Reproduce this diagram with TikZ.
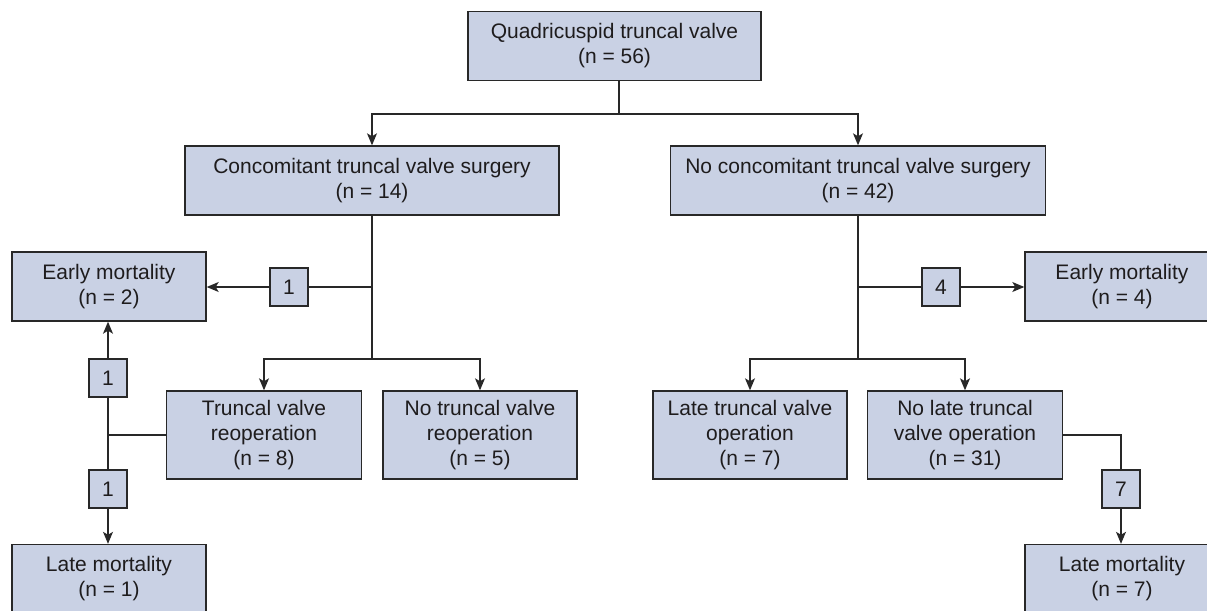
\documentclass[tikz,border=0pt]{standalone}
\usepackage{fontspec}
\setmainfont{Liberation Sans}
\usepackage{tikz}
\usetikzlibrary{arrows.meta}
\usetikzlibrary{positioning}
\definecolor{boxblue}{RGB}{201,209,228}
\definecolor{edgegray}{RGB}{40,40,40}
\definecolor{inkgray}{RGB}{30,28,29}
\tikzset{>={Stealth[length=6pt,width=5pt,inset=1.5pt]}}
\tikzset{
    stage/.style={draw=edgegray, fill=boxblue, line width=0.7pt, align=center,
        inner sep=0pt, minimum height=34.5pt, text=inkgray,
        font=\fontsize{10.5}{12.5}\selectfont},
    tally/.style={draw=edgegray, fill=boxblue, line width=0.7pt, inner sep=0pt,
        minimum size=19pt, text=inkgray, font=\fontsize{10.5}{12.5}\selectfont},
}

\begin{document}
\begin{tikzpicture}[x=0.5pt, y=-0.5pt, line width=0.6pt, draw=edgegray]
	\useasboundingbox (0,0) rectangle (1207,611);
	\clip (0,0) rectangle (1207,611);
	\node[stage, minimum width=146.5pt] (top) at (614.5,46) {Quadricuspid truncal valve\\(n = 56)};
	\node[stage, minimum width=187pt] (conc) at (372,180.5) {Concomitant truncal valve surgery\\(n = 14)};
	\node[stage, minimum width=187.5pt] (noconc) at (858,180.5) {No concomitant truncal valve surgery\\(n = 42)};
	\node[stage, minimum width=97pt] (earlyL) at (109,286.5) {Early mortality\\(n = 2)};
	\node[stage, minimum width=97pt] (earlyR) at (1122,286.5) {Early mortality\\(n = 4)};
	\node[tally] (cnt1) at (289,287) {1};
	\node[tally] (cnt4) at (941,287) {4};
	\node[stage, minimum width=97.5pt, minimum height=44pt] (tvr) at (264,435) {Truncal valve\\reoperation\\(n = 8)};
	\node[stage, minimum width=97pt, minimum height=44pt] (ntvr) at (480,435) {No truncal valve\\reoperation\\(n = 5)};
	\node[stage, minimum width=97pt, minimum height=44pt] (ltvo) at (750,435) {Late truncal valve\\operation\\(n = 7)};
	\node[stage, minimum width=97.5pt, minimum height=44pt] (nltvo) at (965,435) {No late truncal\\valve operation\\(n = 31)};
	\node[tally] (cntA) at (108,378) {1};
	\node[tally] (cntB) at (108,489) {1};
	\node[tally] (cnt7) at (1121,489) {7};
	\node[stage, minimum width=97pt] (lateL) at (109,579) {Late mortality\\(n = 1)};
	\node[stage, minimum width=97pt] (lateR) at (1122,579) {Late mortality\\(n = 7)};

	\coordinate (jtop) at (619,114);
	\coordinate (jconc) at (372,359);
	\coordinate (jnoconc) at (858,359);
	\coordinate (jleft) at (108,435);

	\draw (top.south -| jtop) -- (jtop);
	\draw[->] (jtop) -| (conc.north);
	\draw[->] (jtop) -| (noconc.north);

	\draw (conc.south) -- (jconc);
	\draw[->] (jconc) -| (tvr.north);
	\draw[->] (jconc) -| (ntvr.north);
	\draw (conc.south |- cnt1) -- (cnt1.east);
	\draw[->] (cnt1.west) -- (cnt1.west -| earlyL.east);

	\draw (tvr.west) -- (jleft);
	\draw (jleft) -- (cntA.south);
	\draw[->] (cntA.north) -- (cntA.north |- earlyL.south);
	\draw (jleft) -- (cntB.north);
	\draw[->] (cntB.south) -- (cntB.south |- lateL.north);

	\draw (noconc.south) -- (jnoconc);
	\draw[->] (jnoconc) -| (ltvo.north);
	\draw[->] (jnoconc) -| (nltvo.north);
	\draw (noconc.south |- cnt4) -- (cnt4.west);
	\draw[->] (cnt4.east) -- (cnt4.east -| earlyR.west);

	\draw (nltvo.east) -| (cnt7.north);
	\draw[->] (cnt7.south) -- (cnt7.south |- lateR.north);
\end{tikzpicture}
\end{document}
